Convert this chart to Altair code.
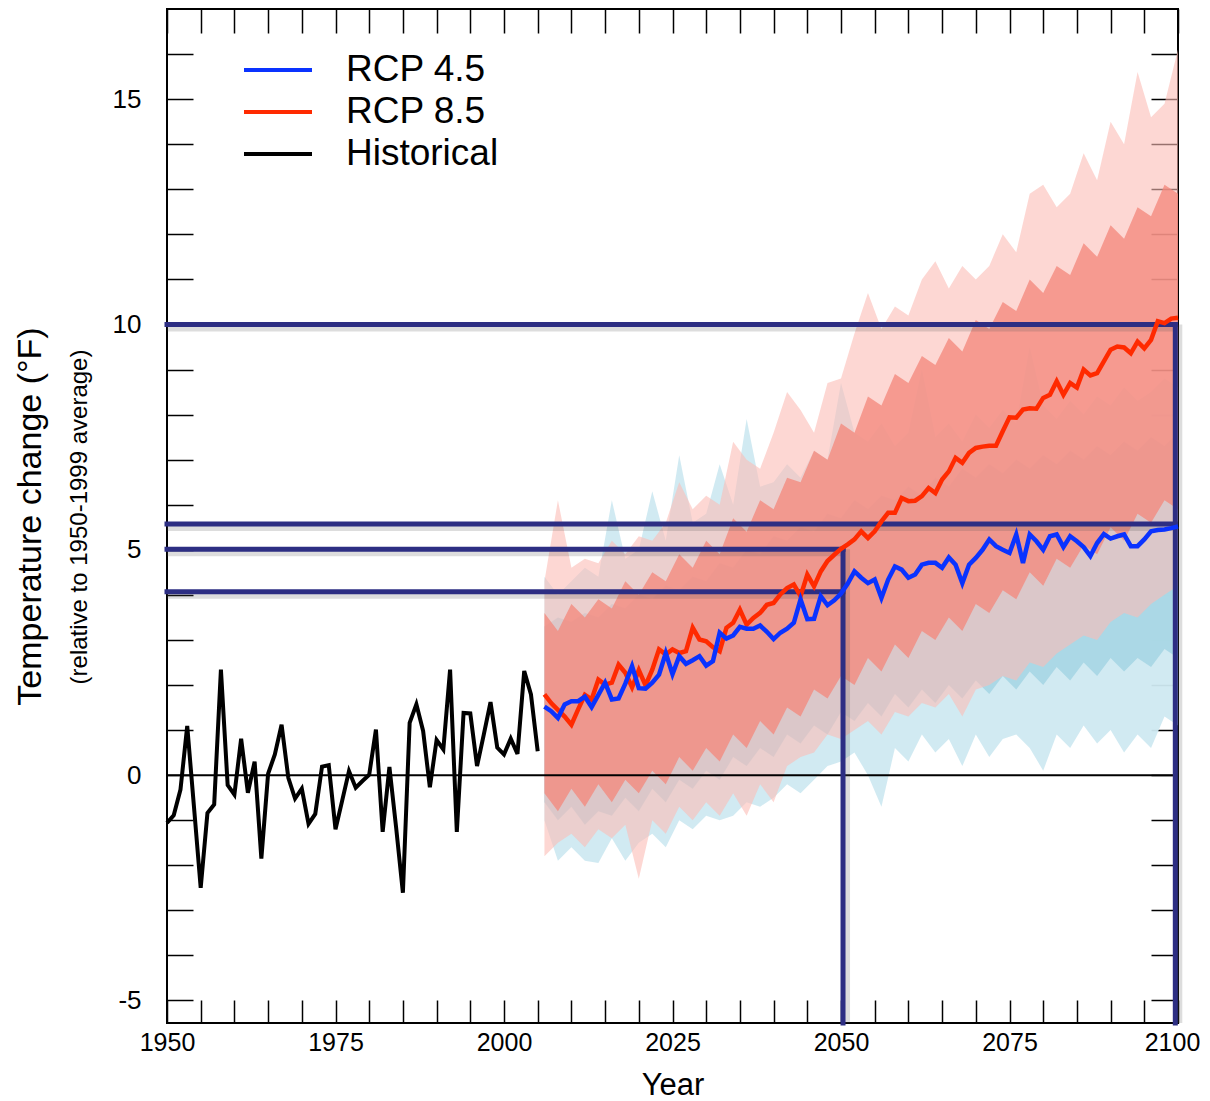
import altair as alt
import pandas as pd

# ---------------- data ----------------
hist_years = list(range(1950, 2006))
hist_vals = [-1.06, -0.89, -0.32, 1.09, -0.70, -2.50, -0.84, -0.65, 2.34, -0.22,
             -0.43, 0.81, -0.39, 0.30, -1.85, 0.03, 0.46, 1.12, -0.06, -0.52,
             -0.30, -1.08, -0.86, 0.19, 0.22, -1.20, -0.56, 0.09, -0.28, -0.13,
             0.01, 1.01, -1.26, 0.18, -1.17, -2.61, 1.16, 1.57, 0.98, -0.27,
             0.78, 0.57, 2.34, -1.26, 1.38, 1.37, 0.20, 0.90, 1.62, 0.61,
             0.46, 0.81, 0.47, 2.31, 1.79, 0.53]

proj_years = list(range(2006, 2101))
rcp85_mean = [1.79, 1.60, 1.45, 1.30, 1.12, 1.46, 1.78, 1.68, 2.12, 2.01,
              2.05, 2.45, 2.27, 1.95, 2.33, 1.99, 2.34, 2.79, 2.68, 2.79,
              2.71, 2.75, 3.27, 3.01, 2.97, 2.84, 2.75, 3.27, 3.38, 3.67,
              3.34, 3.49, 3.60, 3.78, 3.82, 4.01, 4.15, 4.23, 3.97, 4.45,
              4.19, 4.52, 4.75, 4.89, 5.02, 5.12, 5.23, 5.41, 5.26, 5.41,
              5.63, 5.82, 5.82, 6.15, 6.08, 6.09, 6.19, 6.37, 6.26, 6.56,
              6.74, 7.04, 6.93, 7.15, 7.26, 7.29, 7.31, 7.31, 7.63, 7.94,
              7.93, 8.11, 8.14, 8.13, 8.37, 8.44, 8.74, 8.44, 8.70, 8.60,
              9.00, 8.87, 8.92, 9.18, 9.44, 9.51, 9.49, 9.36, 9.62, 9.47,
              9.66, 10.07, 10.03, 10.13, 10.15]
rcp45_mean = [1.52, 1.42, 1.27, 1.57, 1.64, 1.64, 1.74, 1.51, 1.78, 2.05,
              1.68, 1.70, 2.03, 2.42, 1.93, 1.92, 2.05, 2.23, 2.71, 2.24,
              2.64, 2.47, 2.55, 2.64, 2.43, 2.53, 3.16, 3.03, 3.10, 3.29,
              3.25, 3.25, 3.32, 3.18, 3.02, 3.16, 3.25, 3.38, 3.90, 3.46,
              3.47, 3.97, 3.77, 3.88, 4.03, 4.25, 4.52, 4.38, 4.26, 4.34,
              3.93, 4.34, 4.63, 4.56, 4.38, 4.45, 4.67, 4.71, 4.71, 4.60,
              4.83, 4.67, 4.26, 4.67, 4.82, 5.00, 5.23, 5.08, 5.00, 4.93,
              5.34, 4.71, 5.34, 5.19, 5.00, 5.30, 5.34, 5.06, 5.30, 5.19,
              5.06, 4.86, 5.15, 5.35, 5.25, 5.30, 5.34, 5.08, 5.08, 5.23,
              5.41, 5.44, 5.45, 5.48, 5.52]

# spread of the model runs, read every second year
env_years = list(range(2006, 2101, 2))
rcp85_hi = [4.3, 6.1, 4.6, 4.8, 4.7, 5.2, 4.9, 5.3, 5.2, 5.6,
            6.5, 5.9, 6.2, 6.0, 7.4, 7.0, 6.8, 7.6, 8.5, 8.1,
            7.6, 8.7, 8.8, 9.8, 10.7, 9.9, 10.4, 10.2, 11.0, 11.4,
            10.8, 11.3, 11.0, 11.3, 12.0, 11.6, 12.9, 13.1, 12.6, 12.9,
            13.8, 13.2, 14.5, 14.0, 15.6, 14.6, 14.9, 16.1]
rcp85_lo = [-1.8, -1.5, -1.3, -1.6, -1.2, -1.4, -1.1, -2.3, -1.0, -1.3,
            -0.7, -1.0, -0.6, -0.9, -0.4, -0.9, -0.2, -0.6, 0.2, 0.4,
            0.5, 0.9, 0.8, 1.0, 1.2, 0.9, 1.4, 1.3, 1.6, 1.5,
            1.8, 1.3, 1.9, 2.0, 2.2, 2.1, 2.5, 2.4, 2.7, 2.9,
            3.1, 3.0, 3.4, 3.6, 3.5, 3.8, 4.0, 4.2]
rcp85_core_hi = [3.6, 3.2, 3.8, 3.5, 3.9, 3.7, 4.3, 4.0, 4.5, 4.3,
                 4.9, 4.6, 5.2, 4.9, 5.7, 5.4, 6.1, 5.9, 6.6, 6.5,
                 7.2, 7.0, 7.8, 7.6, 8.4, 8.2, 8.9, 8.7, 9.3, 9.1,
                 9.7, 9.4, 10.1, 9.9, 10.5, 10.3, 11.0, 10.7, 11.3, 11.1,
                 11.8, 11.5, 12.2, 11.9, 12.6, 12.4, 13.1, 12.9]
rcp85_core_lo = [-0.4, -0.8, -0.3, -0.7, -0.2, -0.6, -0.1, -0.4, 0.1, -0.2,
                 0.4, 0.1, 0.6, 0.3, 0.9, 0.6, 1.2, 0.9, 1.5, 1.3,
                 1.9, 1.7, 2.2, 2.0, 2.6, 2.3, 2.9, 2.6, 3.2, 3.0,
                 3.5, 3.2, 3.8, 3.6, 4.1, 3.9, 4.5, 4.2, 4.8, 4.6,
                 5.1, 4.9, 5.5, 5.2, 5.8, 5.6, 6.1, 5.9]
rcp45_hi = [4.4, 4.0, 4.3, 4.6, 4.4, 6.1, 4.8, 5.0, 6.3, 5.2,
            7.1, 5.6, 5.8, 6.9, 6.0, 7.9, 6.4, 6.5, 6.9, 6.6,
            7.2, 7.0, 8.7, 7.6, 7.4, 7.8, 7.3, 7.6, 9.0, 7.5,
            7.8, 7.4, 8.0, 7.7, 8.1, 7.8, 9.5, 8.2, 7.9, 8.3,
            8.0, 8.4, 8.2, 8.6, 8.3, 8.5, 8.8, 8.6]
rcp45_lo = [-1.0, -1.9, -1.6, -1.9, -1.95, -1.4, -1.9, -1.5, -1.3, -1.6,
            -1.0, -1.2, -0.9, -1.0, -0.9, -0.6, -0.7, -0.5, -0.2, -0.4,
            -0.1, 0.2, 0.3, 0.5, 0.0, -0.7, 0.6, 0.3, 0.9, 0.5,
            0.8, 0.2, 0.9, 0.4, 0.8, 0.9, 0.6, 0.1, 0.9, 0.6,
            1.1, 0.7, 1.0, 0.5, 0.9, 0.6, 1.3, 1.1]
rcp45_core_hi = [3.3, 3.5, 3.4, 3.6, 3.5, 3.8, 3.7, 4.0, 3.9, 4.2,
                 4.1, 4.4, 4.3, 4.7, 4.6, 5.0, 4.9, 5.3, 5.2, 5.5,
                 5.4, 5.8, 5.7, 6.1, 5.9, 6.2, 6.1, 6.4, 6.2, 6.6,
                 6.4, 6.8, 6.6, 6.9, 6.7, 7.0, 6.8, 7.1, 6.9, 7.2,
                 7.0, 7.3, 7.1, 7.4, 7.2, 7.5, 7.3, 7.6]
rcp45_core_lo = [-0.6, -1.0, -0.7, -1.1, -0.8, -0.9, -0.5, -0.8, -0.3, -0.6,
                 -0.1, -0.3, 0.1, -0.1, 0.4, 0.2, 0.6, 0.4, 0.9, 0.7,
                 1.1, 0.9, 1.4, 1.2, 1.6, 1.3, 1.8, 1.5, 1.9, 1.6,
                 2.0, 1.7, 2.1, 1.8, 2.2, 1.9, 2.3, 2.0, 2.4, 2.1,
                 2.5, 2.2, 2.6, 2.3, 2.6, 2.4, 2.8, 2.6]

# highlighted reference lines
ref_h_vals = [10.0, 5.57, 5.01, 4.07]
ref_h_start = [1950, 1950, 1950, 1950]
ref_h_end = [2099.6, 2099.6, 2050.3, 2050.3]
ref_v_years = [2050.3, 2099.6]
ref_v_bottom = [-5.5, -5.5]
ref_v_top = [5.01, 10.0]

series_names = ["RCP 4.5", "RCP 8.5", "Historical"]
series_colors = ["#0a33ff", "#ff2a00", "#000000"]

x_ticks = list(range(1950, 2101, 5))
y_ticks = list(range(-5, 17))
subtitle = "(relative to 1950-1999 average)"

# ---------------- tables ----------------
env_df = pd.DataFrame({"year": env_years,
                       "hi85": rcp85_hi, "lo85": rcp85_lo,
                       "chi85": rcp85_core_hi, "clo85": rcp85_core_lo,
                       "hi45": rcp45_hi, "lo45": rcp45_lo,
                       "chi45": rcp45_core_hi, "clo45": rcp45_core_lo})
hist_df = pd.DataFrame({"year": hist_years, "value": hist_vals, "series": "Historical"})
r85_df = pd.DataFrame({"year": proj_years, "value": rcp85_mean, "series": "RCP 8.5"})
r45_df = pd.DataFrame({"year": proj_years, "value": rcp45_mean, "series": "RCP 4.5"})
refh_df = pd.DataFrame({"y": ref_h_vals, "x": ref_h_start, "x2": ref_h_end})
refv_df = pd.DataFrame({"x": ref_v_years, "y": ref_v_bottom, "y2": ref_v_top})
zero_df = pd.DataFrame({"x": [1950], "x2": [2100], "y": [0]})
sub_df = pd.DataFrame({"t": [subtitle]})

FONT = "Liberation Sans"
xs = alt.Scale(domain=[1950, 2100], nice=False, zero=False)
ys = alt.Scale(domain=[-5.5, 17], nice=False, zero=False)

x_bottom = alt.Axis(orient="bottom", values=x_ticks, offset=-23, tickSize=23,
                    domain=False, grid=False, tickColor="black", tickWidth=1.5,
                    labelExpr="datum.value % 25 == 0 ? '' + datum.value : ''",
                    labelFont=FONT, labelFontSize=25, labelColor="black", labelPadding=7,
                    labelOverlap=False, labelFlush=False, labelBound=False,
                    labelOffset={"condition": {"test": "datum.value == 2100", "value": -6},
                                 "value": 0},
                    title="Year", titleFont=FONT, titleFontSize=31,
                    titleFontWeight="normal", titleColor="black", titlePadding=15)
y_left = alt.Axis(orient="left", values=y_ticks, offset=-26, tickSize=26, domain=False,
                  grid=False, tickColor="black", tickWidth=1.5,
                  labelExpr="datum.value % 5 == 0 ? '' + datum.value : ''",
                  labelFont=FONT, labelFontSize=26, labelColor="black", labelPadding=26,
                  labelOverlap=False, labelFlush=False, labelBound=False,
                  title="Temperature change (°F)", titleFont=FONT,
                  titleFontSize=34, titleFontWeight="normal", titleColor="black",
                  titlePadding=65)
x_top = alt.Axis(orient="top", values=x_ticks, offset=-24, tickSize=24, domain=False,
                 grid=False, labels=False, tickColor="black", tickWidth=1.5, title=None)
y_right = alt.Axis(orient="right", values=y_ticks, offset=-27, tickSize=27, domain=False,
                   grid=False, labels=False, tickColor="black", tickWidth=1.5, title=None)

legend = alt.Legend(title=None, orient="none", legendX=75, legendY=43, symbolType="stroke",
                    symbolSize=4624, symbolStrokeWidth=4, labelFont=FONT, labelFontSize=37,
                    labelColor="black", labelOffset=32, rowPadding=5, clipHeight=36,
                    padding=0)
color = alt.Color("series:N", scale=alt.Scale(domain=series_names, range=series_colors),
                  legend=legend)


def X(field, axis=None):
    return alt.X(field, type="quantitative", scale=xs, axis=axis)


def Y(field, axis=None):
    return alt.Y(field, type="quantitative", scale=ys, axis=axis)


blue_outer = alt.Chart(env_df).mark_area(color="#cfe9f1", opacity=0.95).encode(
    x=X("year", x_bottom), y=Y("lo45", y_left), y2="hi45")
blue_core = alt.Chart(env_df).mark_area(color="#a9d7e5", opacity=0.95).encode(
    x=X("year"), y=Y("clo45"), y2="chi45")
pink_outer = alt.Chart(env_df).mark_area(color="#fbbcb5", opacity=0.6).encode(
    x=X("year"), y=Y("lo85"), y2="hi85")
pink_core = alt.Chart(env_df).mark_area(color="#f4897d", opacity=0.78).encode(
    x=X("year"), y=Y("clo85"), y2="chi85")

zero = alt.Chart(zero_df).mark_rule(color="black", strokeWidth=2).encode(
    x=X("x", x_top), x2="x2", y=Y("y", y_right))

NAVY = "#2d2e83"
h_shadow = alt.Chart(refh_df).mark_rule(color="#555555", opacity=0.2, strokeWidth=8,
                                         yOffset=3).encode(x=X("x"), x2="x2", y=Y("y"))
v_shadow = alt.Chart(refv_df).mark_rule(color="#555555", opacity=0.2, strokeWidth=8,
                                         xOffset=3).encode(x=X("x"), y=Y("y"), y2="y2")
h_lines = alt.Chart(refh_df).mark_rule(color=NAVY, strokeWidth=5, strokeCap="square").encode(
    x=X("x"), x2="x2", y=Y("y"))
v_lines = alt.Chart(refv_df).mark_rule(color=NAVY, strokeWidth=5, strokeCap="square").encode(
    x=X("x"), y=Y("y"), y2="y2")

hist_line = alt.Chart(hist_df).mark_line(strokeWidth=4).encode(
    x=X("year"), y=Y("value"), color=color)
r85_line = alt.Chart(r85_df).mark_line(strokeWidth=4.5).encode(
    x=X("year"), y=Y("value"), color=color)
r45_line = alt.Chart(r45_df).mark_line(strokeWidth=4.5).encode(
    x=X("year"), y=Y("value"), color=color)

sub_text = alt.Chart(sub_df).mark_text(angle=270, font=FONT, fontSize=24, color="black",
                                       align="center", baseline="middle").encode(
    x=alt.value(-87), y=alt.value(508), text="t:N")

chart = alt.layer(
    blue_outer, blue_core, pink_outer, pink_core, zero,
    h_shadow, v_shadow, h_lines, v_lines,
    hist_line, r85_line, r45_line, sub_text
).resolve_axis(x="independent", y="independent").properties(
    width=1011, height=1014,
    padding={"left": 5, "top": 0, "right": 0, "bottom": 0},
    background="white"
).configure_view(stroke="black", strokeWidth=2)

chart.save("out.html", embed_options={"renderer": "svg", "actions": False})
